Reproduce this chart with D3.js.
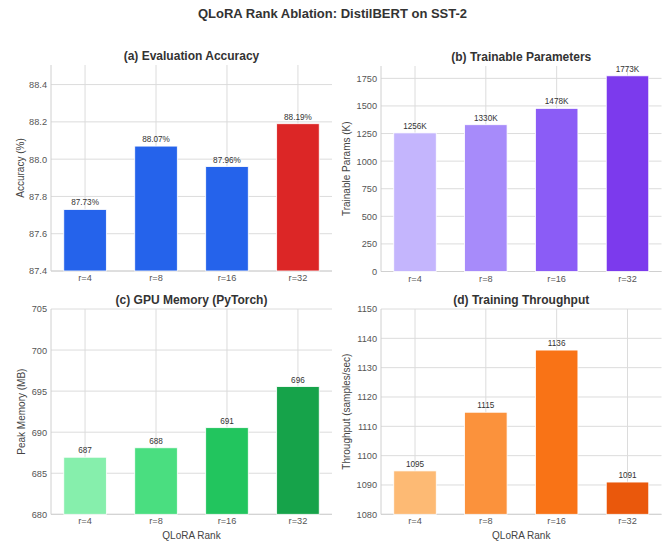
<!DOCTYPE html>
<html><head><meta charset="utf-8">
<script src="https://cdn.jsdelivr.net/npm/d3@7"></script>
<style>body{margin:0;background:#fff;} svg{display:block;font-family:"Liberation Sans",Arial,sans-serif;}</style>
</head><body>
<svg id="c" width="665" height="541"></svg>
<script>
const categories = ["r=4","r=8","r=16","r=32"];
const accuracy = [87.73, 88.07, 87.96, 88.19];
const accuracyLabels = ["87.73%","88.07%","87.96%","88.19%"];
const accuracyColors = ["#2563eb","#2563eb","#2563eb","#dc2626"];
const accuracyTicks = [87.4, 87.6, 87.8, 88.0, 88.2, 88.4];
const params = [1256, 1330, 1478, 1773];
const paramsLabels = ["1256K","1330K","1478K","1773K"];
const paramsColors = ["#c4b5fd","#a78bfa","#8b5cf6","#7c3aed"];
const paramsTicks = [0, 250, 500, 750, 1000, 1250, 1500, 1750];
const memory = [686.95, 688.1, 690.55, 695.55];
const memoryLabels = ["687","688","691","696"];
const memoryColors = ["#86efac","#4ade80","#22c55e","#16a34a"];
const memoryTicks = [680, 685, 690, 695, 700, 705];
const throughput = [1094.8, 1114.8, 1136.0, 1091.0];
const throughputLabels = ["1095","1115","1136","1091"];
const throughputColors = ["#fdba74","#fb923c","#f97316","#ea580c"];
const throughputTicks = [1080, 1090, 1100, 1110, 1120, 1130, 1140, 1150];

const svg = d3.select("#c");
svg.append("text").attr("x", 332.5).attr("y", 18).attr("text-anchor","middle")
  .attr("font-size", 13).attr("font-weight","bold").attr("fill","#333").text("QLoRA Rank Ablation: DistilBERT on SST-2");

const panels = [
  {title:"(a) Evaluation Accuracy", ylabel:"Accuracy (%)", vals:accuracy, labels:accuracyLabels, colors:accuracyColors, ticks:accuracyTicks, domain:[87.4,88.505], fmt:d3.format(".1f"), x0:51, x1:332, y0:65, y1:271, xlab:false, lx:20},
  {title:"(b) Trainable Parameters", ylabel:"Trainable Params (K)", vals:params, labels:paramsLabels, colors:paramsColors, ticks:paramsTicks, domain:[0,1862], fmt:d3.format("d"), x0:381, x1:661.5, y0:66, y1:271.5, xlab:false, lx:346.7},
  {title:"(c) GPU Memory (PyTorch)", ylabel:"Peak Memory (MB)", vals:memory, labels:memoryLabels, colors:memoryColors, ticks:memoryTicks, domain:[680,705], fmt:d3.format("d"), x0:51, x1:332, y0:309, y1:514.3, xlab:true, lx:21.7},
  {title:"(d) Training Throughput", ylabel:"Throughput (samples/sec)", vals:throughput, labels:throughputLabels, colors:throughputColors, ticks:throughputTicks, domain:[1080,1150], fmt:d3.format("d"), x0:381, x1:661.5, y0:309, y1:514.3, xlab:true, lx:346.7}
];

panels.forEach(p => {
  const g = svg.append("g");
  const x = d3.scaleBand().domain(categories).range([p.x0, p.x1]).paddingInner(0.4).paddingOuter(0.18);
  const y = d3.scaleLinear().domain(p.domain).range([p.y1, p.y0]);
  g.selectAll(".hg").data(p.ticks).join("line")
    .attr("x1", p.x0).attr("x2", p.x1).attr("y1", d=>y(d)).attr("y2", d=>y(d))
    .attr("stroke","#dcdcdc").attr("stroke-width",1);
  g.selectAll(".vg").data(categories).join("line")
    .attr("x1", d=>x(d)+x.bandwidth()/2).attr("x2", d=>x(d)+x.bandwidth()/2).attr("y1", p.y0).attr("y2", p.y1)
    .attr("stroke","#dcdcdc").attr("stroke-width",1);
  g.append("line").attr("x1",p.x0).attr("x2",p.x0).attr("y1",p.y0).attr("y2",p.y1).attr("stroke","#d0d0d0");
  g.append("line").attr("x1",p.x0).attr("x2",p.x1).attr("y1",p.y1).attr("y2",p.y1).attr("stroke","#d0d0d0");
  g.selectAll("rect").data(p.vals).join("rect")
    .attr("x",(d,i)=>x(categories[i])).attr("width",x.bandwidth())
    .attr("y",d=>y(d)).attr("height",d=>p.y1 - y(d))
    .attr("fill",(d,i)=>p.colors[i]).attr("stroke","#fff").attr("stroke-width",0.8);
  g.selectAll(".vl").data(p.vals).join("text")
    .attr("x",(d,i)=>x(categories[i])+x.bandwidth()/2).attr("y",d=>y(d)-4)
    .attr("text-anchor","middle").attr("font-size",8.2).attr("fill","#333")
    .text((d,i)=>p.labels[i]);
  const ya = d3.axisLeft(y).tickValues(p.ticks).tickFormat(p.fmt).tickSize(0).tickPadding(4);
  const yg = g.append("g").attr("transform",`translate(${p.x0},0)`).call(ya);
  yg.select(".domain").remove();
  yg.selectAll("text").attr("font-size",9.2).attr("fill","#555").attr("font-family","Liberation Sans, Arial, sans-serif");
  const xa = d3.axisBottom(x).tickSize(0).tickPadding(3.5);
  const xg = g.append("g").attr("transform",`translate(0,${p.y1})`).call(xa);
  xg.select(".domain").remove();
  xg.selectAll("text").attr("font-size",9.2).attr("fill","#555").attr("font-family","Liberation Sans, Arial, sans-serif");
  g.append("text").attr("x",(p.x0+p.x1)/2).attr("y",p.y0-5).attr("text-anchor","middle")
    .attr("font-size",12).attr("font-weight","bold").attr("fill","#333").text(p.title);
  const ym = (p.y0+p.y1)/2;
  g.append("text").attr("transform",`translate(${p.lx},${ym}) rotate(-90)`)
    .attr("text-anchor","middle").attr("dominant-baseline","central").attr("font-size",10).attr("fill","#444").text(p.ylabel);
  if (p.xlab) {
    g.append("text").attr("x",(p.x0+p.x1)/2).attr("y",538.5).attr("text-anchor","middle")
      .attr("font-size",10).attr("fill","#444").text("QLoRA Rank");
  }
});
</script>
</body></html>
